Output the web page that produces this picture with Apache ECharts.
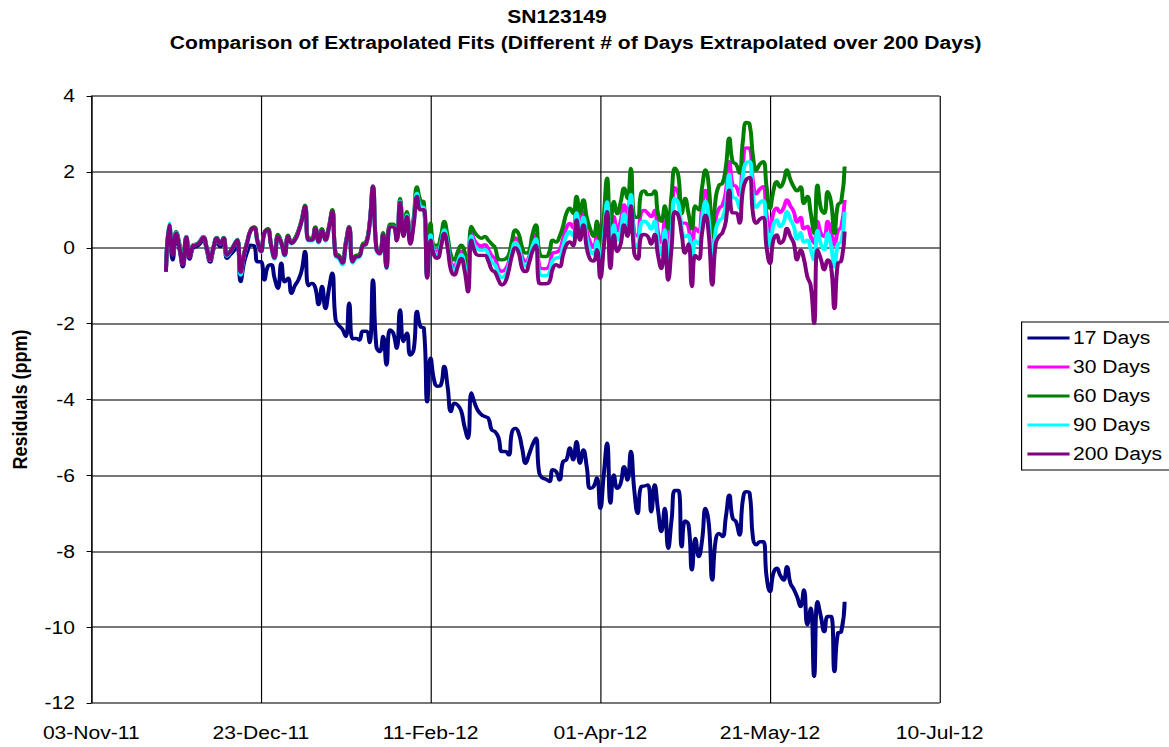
<!DOCTYPE html>
<html>
<head>
<meta charset="utf-8">
<title>SN123149 residuals</title>
<script src="https://cdn.jsdelivr.net/npm/echarts@6/dist/echarts.min.js"></script>
<style>
  html, body { margin: 0; padding: 0; background: #fff; }
  /* the source picture is stretched sideways, so the chart is drawn narrower and widened */
  #wrap { width: 1169px; height: 747px; overflow: hidden; }
  #chart { width: 999px; height: 747px; transform: scaleX(1.1702); transform-origin: 0 0; }
</style>
</head>
<body>
<div id="wrap"><div id="chart"></div></div>
<script>
// x axis: days counted from 03-Nov-11, one reading per day from day 22 (25-Nov-11)
const FIRST_DAY = 22
const xTickLabels = ['03-Nov-11', '23-Dec-11', '11-Feb-12', '01-Apr-12', '21-May-12', '10-Jul-12']
const seriesNames = ['17 Days', '30 Days', '60 Days', '90 Days', '200 Days']
const seriesColors = ['#000080', '#FF00FF', '#008000', '#00FFFF', '#800080']

// residuals (ppm), rows of 10 days
const days17 = [
  -0.63, 0.5, -0.32, 0.3, -0.05, -0.5, 0.22, -0.3, 0.0, 0.03,
  0.1, 0.22, -0.05, -0.38, -0.05, 0.18, 0.03, 0.18, -0.28, -0.18,
  -0.08, 0.05, -0.89, -0.4, -0.1, 0.07, 0.05, -0.37, -0.37, -0.85,
  -0.5, -0.45, -0.8, -1.07, -0.41, -0.9, -0.8, -1.2, -1.0, -0.85,
  -0.6, -0.1, -1.0, -0.94, -1.05, -1.5, -1.02, -1.6, -1.1, -0.67,
  -1.9, -2.05, -2.15, -2.34, -1.46, -2.4, -2.39, -2.43, -2.2, -2.2,
  -2.5, -0.85, -2.6, -2.74, -2.34, -3.09, -2.17, -2.25, -2.65, -1.64,
  -2.47, -2.25, -2.83, -2.69, -1.68, -2.08, -2.12, -4.06, -2.91, -3.48,
  -3.65, -3.62, -3.13, -3.66, -4.32, -4.1, -4.15, -4.3, -4.72, -5.02,
  -3.83, -4.1, -4.3, -4.4, -4.45, -4.49, -4.8, -4.85, -5.0, -5.37,
  -5.37, -5.46, -4.85, -4.76, -4.9, -5.3, -5.68, -5.45, -5.2, -5.02,
  -5.94, -6.07, -6.1, -6.16, -5.85, -5.9, -6.12, -5.64, -5.59, -5.28,
  -5.59, -5.11, -5.68, -5.33, -5.77, -6.34, -6.3, -6.07, -6.87, -6.0,
  -5.15, -6.73, -5.99, -6.34, -6.21, -5.77, -6.12, -5.37, -6.38, -7.0,
  -6.3, -6.28, -6.25, -6.96, -6.25, -6.91, -7.48, -6.87, -7.92, -7.17,
  -6.4, -6.4, -7.88, -7.2, -7.3, -8.49, -7.66, -8.14, -7.7, -6.87,
  -7.3, -8.76, -7.7, -7.53, -7.61, -7.09, -6.52, -7.13, -7.22, -7.57,
  -6.65, -6.43, -6.47, -7.66, -7.83, -7.75, -7.75, -8.67, -9.06, -8.58,
  -8.45, -8.63, -8.76, -8.41, -8.84, -9.0, -9.2, -9.46, -9.02, -9.94,
  -9.5, -11.3, -9.33, -9.72, -10.12, -9.72, -9.72, -11.17, -10.16, -10.12,
  -9.33
]

const days30 = [
  -0.61, 0.57, -0.15, 0.4, 0.05, -0.42, 0.29, -0.22, 0.07, 0.09,
  0.17, 0.29, 0.01, -0.31, 0.01, 0.26, 0.11, 0.26, -0.19, -0.09,
  0.06, 0.21, -0.62, -0.17, 0.17, 0.47, 0.54, 0.17, -0.08, 0.39,
  0.49, 0.07, -0.24, 0.33, 0.14, -0.17, 0.32, 0.14, 0.23, 0.43,
  0.73, 1.1, 0.23, 0.23, 0.53, 0.18, 0.48, 0.23, 0.53, 0.98,
  -0.17, -0.22, -0.37, 0.13, 0.56, -0.33, -0.22, -0.2, 0.08, 0.13,
  0.63, 1.63, 0.0, -0.12, 0.37, -0.49, 0.59, 0.59, 0.22, 1.26,
  0.36, 0.89, 0.18, 0.71, 1.49, 1.14, 1.11, -0.75, 0.45, -0.05,
  -0.09, 0.17, 0.55, 0.17, -0.38, -0.5, -0.28, -0.09, -0.33, -0.87,
  0.4, 0.18, 0.08, 0.05, 0.08, -0.05, -0.21, -0.29, -0.55, -0.62,
  -0.57, -0.38, 0.02, 0.26, 0.13, -0.25, -0.36, -0.24, 0.15, 0.36,
  -0.48, -0.55, -0.55, -0.46, -0.14, -0.12, -0.06, 0.22, 0.53, 0.64,
  0.52, 1.07, 0.59, 0.96, 0.44, 0.14, 0.01, 0.36, -0.44, 0.44,
  1.43, 0.07, 0.82, 0.45, 0.71, 1.13, 0.85, 1.6, 0.39, 0.31,
  0.92, 0.98, 0.91, 0.82, 0.98, 0.41, 0.14, 0.7, -0.11, 0.77,
  1.58, 1.43, 0.65, 0.65, 0.54, -0.18, 0.52, 0.42, 1.06, 1.51,
  1.02, -0.28, 0.76, 1.04, 1.12, 1.49, 2.27, 1.66, 1.62, 1.38,
  2.22, 2.63, 2.62, 1.73, 1.42, 1.55, 1.61, 0.88, 0.43, 0.92,
  1.04, 0.93, 1.05, 1.26, 1.1, 0.95, 0.68, 0.8, 0.5, 0.56,
  0.3, 0.12, 0.69, 0.38, 0.3, 0.69, 0.4, 0.07, 0.45, 0.55,
  1.26
]

const days60 = [
  -0.6, 0.55, -0.1, 0.42, 0.1, -0.4, 0.3, -0.2, 0.08, 0.1,
  0.18, 0.3, 0.02, -0.3, 0.02, 0.27, 0.12, 0.27, -0.18, -0.08,
  0.07, 0.22, -0.6, -0.15, 0.18, 0.48, 0.55, 0.18, -0.07, 0.4,
  0.5, 0.08, -0.22, 0.35, 0.15, -0.15, 0.33, 0.15, 0.25, 0.45,
  0.75, 1.12, 0.25, 0.25, 0.55, 0.2, 0.5, 0.25, 0.55, 1.0,
  -0.15, -0.2, -0.35, 0.15, 0.55, -0.3, -0.2, -0.18, 0.1, 0.15,
  0.65, 1.62, 0.02, -0.1, 0.4, -0.45, 0.62, 0.62, 0.25, 1.3,
  0.4, 0.95, 0.25, 0.8, 1.6, 1.25, 1.2, -0.7, 0.65, 0.07,
  0.07, 0.3, 0.69, 0.3, -0.2, -0.32, -0.1, 0.07, -0.1, -0.63,
  0.56, 0.4, 0.3, 0.25, 0.3, 0.2, 0.1, 0.0, -0.3, -0.32,
  -0.3, -0.2, 0.2, 0.47, 0.35, 0.0, -0.14, -0.1, 0.35, 0.6,
  -0.1, -0.23, -0.23, -0.1, 0.2, 0.15, 0.3, 0.56, 0.9, 1.04,
  0.9, 1.35, 0.9, 1.26, 0.8, 0.5, 0.3, 0.7, -0.14, 0.8,
  1.83, 0.56, 1.22, 0.9, 1.2, 1.57, 1.3, 2.09, 0.82, 0.8,
  1.43, 1.5, 1.4, 1.4, 1.5, 0.9, 0.7, 1.1, 0.5, 1.4,
  2.1, 1.9, 0.9, 1.3, 0.9, 0.5, 1.1, 1.0, 1.6, 2.05,
  1.6, 0.29, 1.3, 1.65, 1.7, 2.14, 2.89, 2.27, 2.2, 1.97,
  2.8, 3.3, 3.25, 2.4, 2.05, 2.2, 2.27, 1.6, 1.04, 1.5,
  1.74, 1.6, 1.75, 2.05, 1.8, 1.61, 1.5, 1.6, 1.17, 1.35,
  0.92, 0.38, 1.65, 1.04, 0.91, 1.48, 1.2, 0.38, 1.13, 1.22,
  2.14
]

const days90 = [
  -0.6, 0.65, -0.17, 0.39, 0.03, -0.44, 0.29, -0.24, 0.06, 0.09,
  0.16, 0.29, 0.0, -0.33, 0.0, 0.25, 0.1, 0.25, -0.22, -0.11,
  0.05, 0.2, -0.72, -0.22, 0.14, 0.44, 0.5, 0.13, -0.12, 0.36,
  0.45, 0.03, -0.3, 0.29, 0.1, -0.22, 0.29, 0.1, 0.2, 0.4,
  0.7, 1.06, 0.18, 0.18, 0.49, 0.13, 0.44, 0.18, 0.49, 0.94,
  -0.22, -0.3, -0.45, 0.08, 0.5, -0.4, -0.28, -0.25, 0.04, 0.09,
  0.6, 1.6, -0.05, -0.18, 0.33, -0.55, 0.55, 0.56, 0.19, 1.23,
  0.32, 0.86, 0.15, 0.66, 1.43, 1.08, 1.06, -0.77, 0.34, -0.12,
  -0.18, 0.09, 0.47, 0.09, -0.48, -0.6, -0.38, -0.18, -0.45, -1.0,
  0.31, 0.05, -0.05, -0.07, -0.05, -0.19, -0.38, -0.46, -0.69, -0.78,
  -0.72, -0.48, -0.08, 0.14, 0.0, -0.39, -0.48, -0.31, 0.04, 0.23,
  -0.69, -0.73, -0.73, -0.66, -0.33, -0.27, -0.26, 0.03, 0.32, 0.42,
  0.31, 0.92, 0.41, 0.8, 0.24, -0.06, -0.16, 0.18, -0.6, 0.24,
  1.21, -0.21, 0.6, 0.2, 0.43, 0.89, 0.6, 1.4, 0.15, 0.03,
  0.64, 0.7, 0.63, 0.49, 0.7, 0.13, -0.18, 0.47, -0.45, 0.42,
  1.3, 1.17, 0.51, 0.29, 0.34, -0.56, 0.19, 0.09, 0.76, 1.22,
  0.69, -0.6, 0.46, 0.71, 0.79, 1.13, 1.93, 1.33, 1.3, 1.05,
  1.89, 2.25, 2.27, 1.35, 1.07, 1.19, 1.24, 0.48, 0.03, 0.59,
  0.73, 0.56, 0.67, 0.95, 0.75, 0.57, 0.23, 0.4, 0.15, 0.2,
  -0.05, -0.32, 0.45, 0.1, -0.05, 0.38, 0.05, -0.5, 0.1, 0.15,
  0.95
]

const days200 = [
  -0.63, 0.6, -0.2, 0.38, 0.0, -0.45, 0.28, -0.25, 0.05, 0.08,
  0.15, 0.28, 0.0, -0.32, 0.0, 0.25, 0.1, 0.25, -0.2, -0.1,
  0.05, 0.2, -0.65, -0.2, 0.15, 0.45, 0.52, 0.15, -0.1, 0.38,
  0.47, 0.05, -0.27, 0.3, 0.12, -0.2, 0.3, 0.12, 0.2, 0.4,
  0.7, 1.08, 0.2, 0.2, 0.5, 0.15, 0.45, 0.2, 0.5, 0.95,
  -0.2, -0.25, -0.4, 0.1, 0.52, -0.37, -0.24, -0.22, 0.05, 0.1,
  0.6, 1.61, -0.03, -0.15, 0.34, -0.53, 0.55, 0.55, 0.18, 1.2,
  0.3, 0.82, 0.1, 0.6, 1.35, 1.0, 1.0, -0.8, 0.2, -0.2,
  -0.28, 0.0, 0.38, 0.0, -0.6, -0.72, -0.5, -0.28, -0.6, -1.16,
  0.2, -0.1, -0.2, -0.2, -0.2, -0.35, -0.58, -0.65, -0.85, -0.98,
  -0.9, -0.6, -0.2, 0.0, -0.15, -0.55, -0.63, -0.4, -0.1, 0.07,
  -0.94, -0.95, -0.95, -0.9, -0.55, -0.45, -0.5, -0.2, 0.07, 0.15,
  0.05, 0.73, 0.2, 0.6, 0.0, -0.3, -0.35, -0.05, -0.8, 0.0,
  0.95, -0.54, 0.34, -0.1, 0.1, 0.6, 0.3, 1.1, -0.14, -0.3,
  0.3, 0.35, 0.3, 0.1, 0.35, -0.2, -0.55, 0.2, -0.85, 0.0,
  0.95, 0.85, 0.34, -0.14, 0.1, -1.02, -0.2, -0.3, 0.4, 0.86,
  0.3, -0.98, 0.1, 0.3, 0.4, 0.7, 1.52, 0.92, 0.92, 0.65,
  1.5, 1.8, 1.85, 0.9, 0.65, 0.75, 0.8, 0.0, -0.41, 0.2,
  0.34, 0.12, 0.2, 0.51, 0.3, 0.12, -0.32, -0.06, -0.3, -0.76,
  -1.0, -1.99, -0.06, -0.3, -0.58, -0.32, -0.5, -1.6, -0.41, -0.35,
  0.43
]

const allValues = [days17, days30, days60, days90, days200]
const FONT = '"Liberation Sans", Arial, sans-serif'

const chart = echarts.init(document.getElementById('chart'), null, { renderer: 'svg' })

// pair each reading with its day number
const toPoints = (values) => values.map((v, i) => [FIRST_DAY + i, v])

const option = {
  animation: false,
  backgroundColor: '#fff',
  textStyle: { fontFamily: FONT, color: '#000' },
  graphic: [
    {
      type: 'text', x: 476, y: 17,
      style: { text: 'SN123149', fill: '#000', font: 'bold 18px ' + FONT, align: 'center', verticalAlign: 'middle' }
    },
    {
      type: 'text', x: 492, y: 43,
      style: {
        text: 'Comparison of Extrapolated Fits (Different # of Days Extrapolated over 200 Days)',
        fill: '#000', font: 'bold 18px ' + FONT, align: 'center', verticalAlign: 'middle'
      }
    }
  ],
  grid: { left: 77, right: 196, top: 96, bottom: 44, containLabel: false },
  legend: {
    orient: 'vertical',
    left: 873,
    top: 322,
    padding: [6, 40, 6, 5],
    itemGap: 9,
    itemWidth: 36,
    itemHeight: 3,
    icon: 'rect',
    borderColor: '#000',
    borderWidth: 1,
    textStyle: { fontSize: 18, lineHeight: 20, color: '#000', fontFamily: FONT, padding: [0, 0, 0, -2] },
    data: seriesNames
  },
  xAxis: {
    type: 'value',
    min: 0,
    max: 250,
    interval: 50,
    axisLine: { show: false },
    axisTick: { show: false },
    axisLabel: {
      margin: 21,
      fontSize: 18,
      color: '#000',
      formatter: (v) => xTickLabels[Math.round(v / 50)]
    },
    splitLine: { show: true, lineStyle: { color: '#000', width: 1 } }
  },
  yAxis: {
    type: 'value',
    min: -12,
    max: 4,
    interval: 2,
    name: 'Residuals (ppm)',
    nameLocation: 'middle',
    nameGap: 52,
    nameRotate: 90,
    nameTextStyle: { fontSize: 18, fontWeight: 'bold', color: '#000' },
    axisLine: { show: true, lineStyle: { color: '#000', width: 1 } },
    axisTick: { show: true, length: 4, lineStyle: { color: '#000' } },
    axisLabel: { margin: 14, fontSize: 18, color: '#000' },
    splitLine: { show: true, lineStyle: { color: '#777', width: 2 } }
  },
  series: seriesNames.map((name, k) => ({
    name: name,
    type: 'line',
    data: toPoints(allValues[k]),
    smooth: true,
    symbol: 'none',
    showSymbol: false,
    color: seriesColors[k],
    lineStyle: { color: seriesColors[k], width: 3.4 },
    z: 2 + k
  }))
}

chart.setOption(option)
</script>
</body>
</html>
